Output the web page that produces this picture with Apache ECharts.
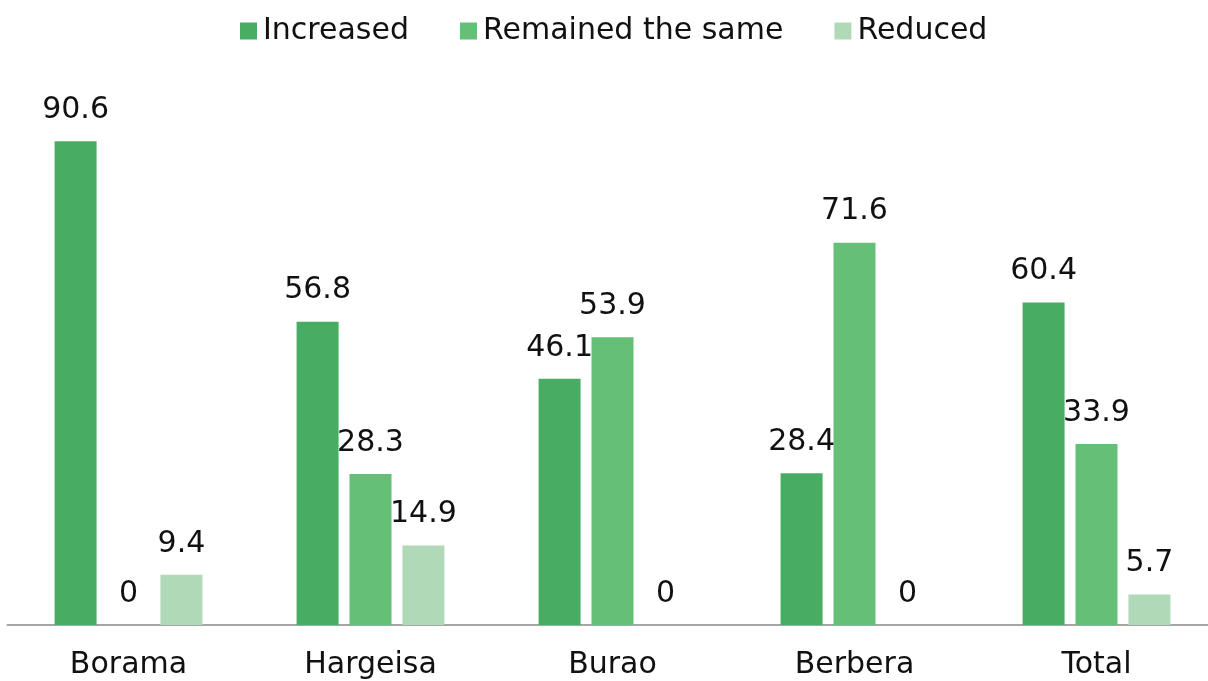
<!DOCTYPE html>
<html>
<head>
<meta charset="utf-8">
<script src="https://cdn.jsdelivr.net/npm/echarts@6/dist/echarts.min.js"></script>
<style>
  html, body { margin: 0; padding: 0; background: #fff; overflow: hidden; }
  #chart { width: 1218px; height: 681px; }
</style>
</head>
<body>
<div id="chart"></div>
<script>
const categories = ['Borama', 'Hargeisa', 'Burao', 'Berbera', 'Total'];
const increased = [90.6, 56.8, 46.1, 28.4, 60.4];
const remainedSame = [0, 28.3, 53.9, 71.6, 33.9];
const reduced = [9.4, 14.9, 0, 0, 5.7];

const fontFamily = '"DejaVu Sans", sans-serif';

const label = {
  show: true,
  position: 'top',
  distance: 16,
  color: '#111',
  fontSize: 30,
  fontFamily: fontFamily
};

const chart = echarts.init(document.getElementById('chart'), null, { renderer: 'canvas' });

// chart is 10px wider than the window so the plot runs past the right edge, like the original
chart.setOption({
  animation: false,
  legend: {
    top: 11,
    left: 235,
    itemWidth: 17,
    itemHeight: 17,
    itemGap: 51,
    icon: 'rect',
    textStyle: { fontSize: 30, color: '#111', fontFamily: fontFamily, padding: [0, 0, 0, 1] },
    data: ['Increased', 'Remained the same', 'Reduced']
  },
  grid: { left: 7.5, top: 91, right: 0.5, bottom: 56, containLabel: false },
  xAxis: {
    type: 'category',
    data: categories,
    axisLine: { lineStyle: { color: '#a6a6a6', width: 2 } },
    axisTick: { show: false },
    axisLabel: { fontSize: 30, color: '#111', fontFamily: fontFamily, margin: 25 }
  },
  yAxis: {
    type: 'value',
    min: 0,
    max: 100,
    show: false,
    splitLine: { show: false }
  },
  series: [
    {
      name: 'Increased', type: 'bar', data: increased,
      barWidth: 42, barGap: '26%',
      itemStyle: { color: '#48ad63' }, label: label
    },
    {
      name: 'Remained the same', type: 'bar', data: remainedSame,
      barWidth: 42, barGap: '26%',
      itemStyle: { color: '#65bf76' }, label: label
    },
    {
      name: 'Reduced', type: 'bar', data: reduced,
      barWidth: 42, barGap: '26%',
      itemStyle: { color: '#b0dab7' }, label: label
    }
  ]
});
</script>
</body>
</html>
